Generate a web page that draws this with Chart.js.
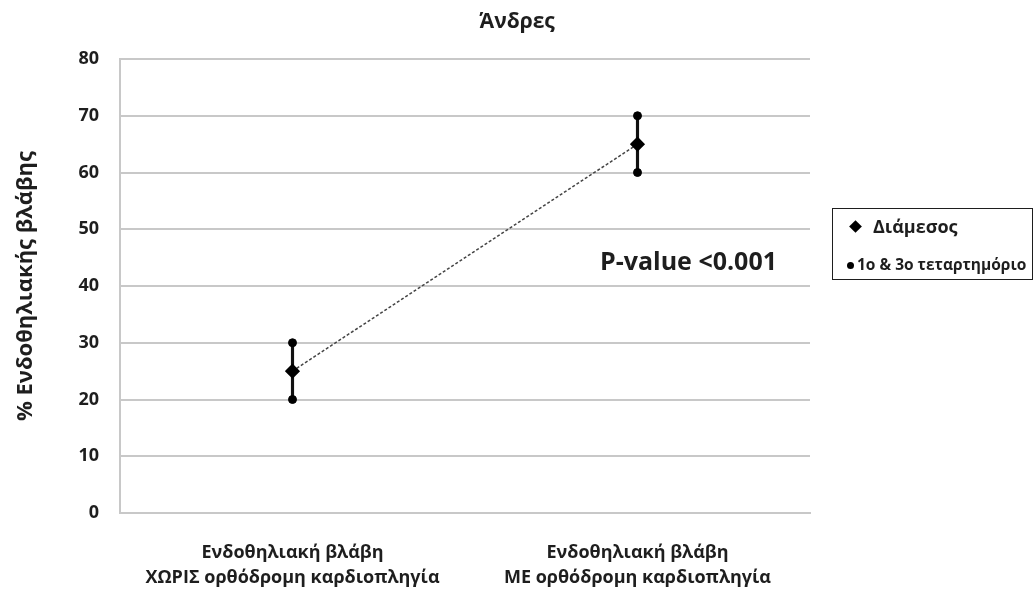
<!DOCTYPE html>
<html>
<head>
<meta charset="utf-8">
<script src="https://cdn.jsdelivr.net/npm/chart.js@4.4.1/dist/chart.umd.min.js"></script>
<style>
  html, body { margin: 0; padding: 0; background: #fff; }
  #wrap { position: relative; width: 1035px; height: 594px; }
  #c { position: absolute; left: 0; top: 0; }
  .ann { position: absolute; font-family: "Open Sans", sans-serif; font-weight: bold; color: #1e1e1e; white-space: nowrap; line-height: 1; }
  #title { left: 417px; width: 200px; text-align: center; top: 10px; font-size: 21px; }
  #pval { left: 600px; top: 248px; font-size: 25px; }
  #legend { position: absolute; left: 832px; top: 208px; width: 201px; height: 72px; border: 1.5px solid #1e1e1e; box-sizing: border-box; font-family: "Open Sans", sans-serif; font-weight: bold; color: #1e1e1e; }
  #legend .t { position: absolute; white-space: nowrap; line-height: 1; }
  #legend .r1 { left: 40px; top: 8px; font-size: 18px; }
  #legend .r2 { left: 24px; top: 48px; font-size: 15.5px; }
  .dia { position: absolute; width: 9px; height: 9px; background: #000; transform: rotate(45deg); left: 17.5px; top: 12.5px; }
  .dot { position: absolute; width: 7px; height: 7px; border-radius: 50%; background: #000; left: 13.5px; top: 52.5px; }
</style>
</head>
<body>
<div id="wrap">
  <canvas id="c" width="1035" height="594"></canvas>
  <div class="ann" id="title"></div>
  <div class="ann" id="pval">P-value &lt;0.001</div>
  <div id="legend">
    <div class="dia"></div>
    <div class="t r1" id="leg1"></div>
    <div class="dot"></div>
    <div class="t r2" id="leg2"></div>
  </div>
</div>
<script>
const chartTitle = "Άνδρες";
const yAxisTitle = "% Ενδοθηλιακής βλάβης";
const legendLabels = ["Διάμεσος", "1ο & 3ο τεταρτημόριο"];
const categories = [
  ["Ενδοθηλιακή βλάβη", "ΧΩΡΙΣ ορθόδρομη καρδιοπληγία"],
  ["Ενδοθηλιακή βλάβη", "ΜΕ ορθόδρομη καρδιοπληγία"]
];
const medianValues = [25, 65];
const q1Values = [20, 60];
const q3Values = [30, 70];
const yTicks = [0, 10, 20, 30, 40, 50, 60, 70, 80];

document.getElementById('title').textContent = chartTitle;
document.getElementById('leg1').textContent = legendLabels[0];
document.getElementById('leg2').textContent = legendLabels[1];

const FONT = '"Open Sans", sans-serif';
const TXT = '#1e1e1e';
const ranges = q1Values.map((v, i) => [v, q3Values[i]]);

new Chart(document.getElementById('c'), {
  data: {
    labels: categories,
    datasets: [
      {
        type: 'line', label: legendLabels[0], data: medianValues,
        borderColor: '#444', borderWidth: 1.5, borderDash: [3, 2],
        pointStyle: 'rectRot', pointRadius: 6.5, pointBackgroundColor: '#000', pointBorderColor: '#000',
        order: 0
      },
      {
        type: 'line', label: '1ο', data: q1Values, showLine: false,
        pointStyle: 'circle', pointRadius: 4, pointBackgroundColor: '#000', pointBorderColor: '#000', order: 1
      },
      {
        type: 'line', label: '3ο', data: q3Values, showLine: false,
        pointStyle: 'circle', pointRadius: 4, pointBackgroundColor: '#000', pointBorderColor: '#000', order: 1
      },
      {
        type: 'bar', label: 'IQR', data: ranges, backgroundColor: '#111', barThickness: 2.5, order: 2
      }
    ]
  },
  options: {
    responsive: false,
    animation: false,
    layout: { padding: { left: 0, right: 225, top: 59, bottom: 0 } },
    plugins: {
      legend: { display: false },
      tooltip: { enabled: false },
      title: { display: false }
    },
    scales: {
      x: {
        type: 'category',
        offset: true,
        grid: { display: false, drawTicks: false },
        border: { display: true, color: '#c8c8c8', width: 2 },
        ticks: {
          color: TXT, padding: 27, maxRotation: 0, autoSkip: false,
          font: { family: FONT, size: 18, weight: 'bold', lineHeight: 1.42 }
        },
        afterFit: (s) => { s.height = 81; }
      },
      y: {
        min: 0, max: 80,
        afterBuildTicks: (s) => { s.ticks = yTicks.map(v => ({ value: v })); },
        grid: { color: '#c8c8c8', lineWidth: 2, drawTicks: false },
        border: { display: true, color: '#c8c8c8', width: 2 },
        ticks: { color: TXT, padding: 21, font: { family: FONT, size: 18, weight: 'bold' } },
        title: {
          display: true, text: yAxisTitle, color: TXT,
          font: { family: FONT, size: 22, weight: 'bold' },
          padding: { top: 13, bottom: 0 }
        },
        afterFit: (s) => { s.width = 120; }
      }
    }
  }
});
</script>
</body>
</html>
